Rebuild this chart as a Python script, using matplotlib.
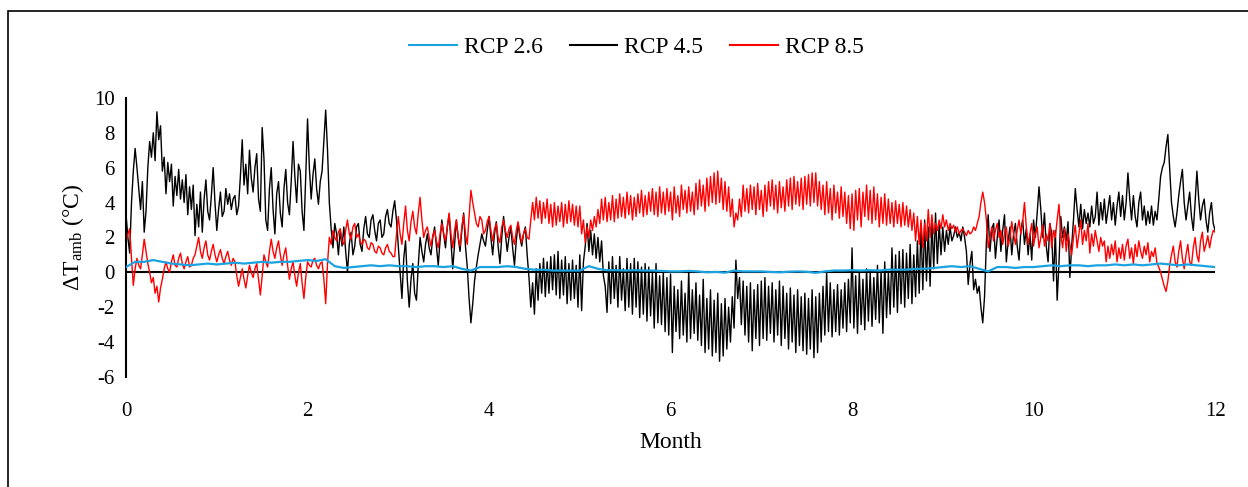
import numpy as np
import matplotlib
matplotlib.use("Agg")
import matplotlib.pyplot as plt
from matplotlib.patches import Rectangle

plt.rcParams["font.family"] = ["Liberation Serif", "DejaVu Serif"]
plt.rcParams["mathtext.fontset"] = "stix"
plt.rcParams["axes.unicode_minus"] = False

# 读图估计的数值：RCP 4.5 / 8.5 每 0.02 个月一个点（每行 10 个，每月 5 行），RCP 2.6 每 0.1 个月一个点
rcp45 = [
    # 0 月
    3.3, 2.0, 1.1, 4.0, 5.8, 7.1, 6.0, 4.8, 3.6, 5.2,
    2.3, 3.5, 6.0, 7.5, 6.6, 8.0, 6.4, 9.2, 7.6, 8.4,
    5.8, 6.6, 4.5, 6.3, 5.2, 6.2, 3.8, 5.5, 4.4, 5.9,
    4.2, 5.3, 4.0, 5.6, 3.3, 4.9, 3.6, 5.0, 2.1, 3.9,
    2.6, 4.6, 2.3, 4.2, 5.3, 3.5, 3.0, 4.4, 6.0, 4.0,
    # 1 月
    2.4, 3.6, 4.6, 3.2, 3.5, 4.8, 3.9, 4.5, 3.6, 4.2,
    4.4, 3.3, 3.8, 5.5, 7.6, 5.0, 6.2, 4.5, 7.0, 5.4,
    4.6, 6.0, 6.8, 4.2, 3.5, 8.3, 6.5, 3.0, 2.4, 4.8,
    6.0, 3.6, 2.2, 4.5, 5.2, 3.4, 2.6, 4.8, 5.9, 4.0,
    3.3, 5.2, 7.5, 5.5, 4.0, 6.2, 5.8, 3.5, 2.4, 5.5,
    # 2 月
    8.8, 6.0, 4.2, 5.6, 6.5, 4.8, 3.9, 5.2, 5.8, 7.5,
    9.3, 7.0, 4.0, 2.5, 1.4, 2.8, 2.2, 1.0, 2.4, 1.5,
    2.6, 1.2, 0.0, 1.6, 2.3, 1.0, 1.5, 2.6, 2.8, 1.6,
    1.2, 2.5, 3.2, 2.2, 2.0, 3.0, 3.3, 2.4, 1.8, 2.8,
    3.0, 2.0, 2.2, 3.2, 3.6, 2.8, 2.6, 3.5, 4.1, 3.0,
    # 3 月
    1.5, 0.0, -1.5, 0.8, 1.8, -0.5, -2.0, -0.4, 0.5, -1.2,
    -1.6, 0.4, 2.0, 1.2, 0.6, 1.6, 2.2, 1.4, 1.0, 2.0,
    2.6, 1.5, 0.4, 1.8, 3.0, 2.2, 1.4, 2.6, 3.3, 1.8,
    0.2, 1.6, 3.0, 2.0, 1.2, 2.4, 3.4, 1.5, 0.3, -1.5,
    -2.9, -1.8, -0.5, 0.3, 1.0, 1.6, 2.2, 1.8, 1.5, 2.4,
    # 4 月
    3.2, 2.0, 1.0, 2.2, 2.9, 1.5, 0.5, 2.0, 3.2, 2.2,
    1.2, 2.0, 2.6, 1.4, 0.4, 1.8, 2.8, 2.0, 1.5, 2.2,
    2.6, 1.0, -0.3, -2.0, -0.6, -2.4, 0.2, -1.6, 0.5, -1.2,
    0.8, -1.4, 0.6, -1.2, 0.9, -1.0, 1.0, -1.3, 1.2, -1.5,
    0.7, -1.3, 0.9, -1.8, 0.5, -1.6, 0.7, -1.5, 0.4, -2.0,
    # 5 月
    1.0, -2.2, 0.6, 1.5, 2.8, 1.2, 2.4, 1.0, 2.2, 0.8,
    2.0, 0.6, 1.8, -0.2, -0.8, -2.3, 0.6, -1.8, 0.9, -1.5,
    0.4, -2.0, 0.9, -1.6, 0.2, -2.2, 0.8, -2.0, 0.5, -2.4,
    0.8, -2.0, 0.6, -2.6, 0.3, -2.4, 0.5, -2.8, 0.3, -2.5,
    0.0, -3.2, 0.5, -2.9, -0.2, -3.0, 0.0, -3.4, -0.3, -3.6,
    # 6 月
    -0.1, -4.6, -0.8, -3.4, -1.0, -3.8, -0.5, -3.6, -1.2, -4.0,
    0.1, -3.8, -1.0, -3.5, -0.6, -3.9, -1.3, -4.2, -0.4, -4.6,
    -1.5, -4.4, -1.0, -4.8, -1.6, -4.6, -1.2, -5.1, -1.8, -4.8,
    -1.5, -4.4, -2.0, -4.0, -1.4, -3.2, 0.7, -1.5, -0.3, -3.0,
    -0.5, -3.6, -0.8, -4.0, -0.6, -4.5, -1.0, -3.8, -0.7, -4.2,
    # 7 月
    -0.5, -3.8, -0.3, -3.9, -0.8, -3.5, -0.6, -4.0, -1.0, -3.6,
    -0.5, -4.2, -0.8, -3.8, -1.2, -4.4, -0.9, -4.0, -1.3, -4.6,
    -1.0, -4.2, -1.4, -4.5, -1.2, -4.7, -1.5, -4.4, -1.0, -4.9,
    -1.4, -4.6, -1.2, -4.0, -0.8, -3.6, 0.0, -3.4, -0.6, -3.7,
    -1.0, -3.4, -0.7, -3.6, -1.0, -3.2, -0.6, -3.4, -0.4, -2.9,
    # 8 月
    1.4, -3.2, -0.2, -3.5, 0.0, -3.0, -0.4, -3.3, 0.2, -2.8,
    0.0, -3.1, -0.3, -2.7, 0.4, -2.9, 0.1, -3.5, 0.6, -2.6,
    0.0, -2.4, 1.4, -2.0, 1.0, -2.3, 1.2, -1.8, 1.3, -2.0,
    1.1, -1.5, 1.6, -1.8, 1.0, -1.4, 1.8, -1.2, 2.8, -1.0,
    3.0, -0.5, 2.6, -0.8, 3.0, 0.2, 3.4, 0.5, 2.8, 1.0,
    # 9 月
    2.6, 1.2, 2.4, 1.6, 2.6, 1.8, 2.1, 2.6, 2.0, 2.3,
    1.8, 2.6, 2.0, 1.2, -0.7, 0.5, 1.2, -1.0, -0.4, -1.2,
    -0.8, -2.0, -2.9, -1.4, 1.7, 3.3, 1.2, 2.5, 2.8, 0.8,
    2.0, 3.0, 1.2, 2.4, 3.3, 0.6, 1.8, 2.6, 1.0, 2.2,
    2.8, 1.5, 0.7, 2.4, 3.0, 1.6, 2.5, 1.0, 2.2, 0.7,
    # 10 月
    3.0, 2.0, 3.4, 4.9, 3.6, 2.0, 3.4, 1.5, 0.6, 2.8,
    2.2, -0.5, 2.4, -1.6, 0.5, 3.2, 2.0, 2.6, 1.8, 2.9,
    -0.3, 1.5, 3.0, 4.8, 3.6, 2.6, 3.9, 2.5, 3.6, 2.8,
    3.4, 2.6, 3.8, 2.8, 3.2, 4.6, 2.7, 4.0, 3.0, 4.2,
    2.8, 3.6, 4.4, 3.0, 4.0, 2.7, 3.8, 4.6, 3.2, 4.4,
    # 11 月
    3.0, 4.0, 5.7, 4.2, 3.0, 4.4, 3.2, 2.6, 4.0, 4.6,
    3.0, 3.8, 2.7, 3.5, 2.8, 3.8, 2.7, 3.5, 3.0, 4.2,
    5.5, 6.0, 6.3, 7.2, 7.9, 6.0, 4.0, 3.2, 2.6, 3.4,
    4.4, 5.2, 5.9, 4.0, 3.0, 3.8, 4.6, 3.2, 2.4, 4.0,
    5.8, 4.2, 3.0, 3.8, 4.2, 3.0, 2.3, 3.4, 4.0, 2.8,
    2.4,
]
rcp85 = [
    # 0 月
    1.7, 2.2, 2.5, 0.8, -0.75, 0.2, 0.8, 0.4, 0.2, 1.0,
    1.9, 1.2, 0.5, 0.0, -0.6, -0.3, -1.2, -0.8, -1.7, -0.9,
    -0.4, 0.2, 0.6, 0.2, 0.0, 0.6, 1.0, 0.4, 0.3, 0.8,
    1.1, 0.5, 0.2, 0.6, 0.9, 0.3, 0.4, 0.8, 1.0, 1.5,
    2.0, 1.2, 0.8, 1.4, 1.8, 1.0, 0.7, 1.2, 1.6, 1.0,
    # 1 月
    0.6, 1.0, 1.3, 0.8, 0.5, 0.9, 1.2, 0.7, 0.4, 0.8,
    0.6, -0.2, -0.8, -0.3, 0.2, -0.4, -0.9, -0.2, 0.4, 0.0,
    -0.3, 0.2, 0.5, -0.4, -1.3, -0.2, 1.0, 0.6, 0.3, 1.2,
    1.9, 1.2, 0.8, 1.4, 1.8, 1.0, 0.4, 1.0, 1.4, 0.4,
    -0.4, 0.2, 0.6, -0.2, -0.8, 0.0, 0.5, -0.6, -1.5, -0.3,
    # 2 月
    0.6, 0.4, 0.3, 0.7, 0.8, 0.4, 0.2, 0.5, 0.6, -0.4,
    -1.8, 0.5, 2.0, 1.6, 2.4, 2.0, 1.8, 2.3, 2.5, 1.8,
    1.6, 2.4, 3.0, 2.2, 1.9, 2.6, 2.8, 2.0, 2.2, 1.8,
    1.6, 1.9, 1.8, 1.4, 1.3, 1.7, 1.6, 1.2, 1.1, 1.5,
    1.4, 1.1, 1.0, 1.4, 1.6, 1.2, 1.1, 0.9, 0.9, 2.2,
    # 3 月
    3.2, 2.2, 1.6, 2.8, 3.8, 2.4, 1.8, 2.9, 3.5, 2.6,
    2.2, 3.4, 4.3, 3.0, 2.0, 2.4, 2.6, 2.0, 1.5, 2.1,
    2.4, 1.8, 1.4, 2.2, 2.8, 2.2, 1.8, 2.6, 3.4, 2.2,
    1.4, 2.4, 3.0, 2.0, 1.5, 2.6, 3.3, 2.2, 1.6, 3.2,
    4.7, 4.0, 3.4, 2.8, 2.6, 3.2, 3.0, 2.2, 2.4, 2.9,
    # 4 月
    3.2, 2.4, 1.8, 2.5, 2.8, 2.0, 1.7, 2.6, 3.0, 2.4,
    2.0, 2.5, 2.7, 2.0, 1.6, 2.4, 2.9, 2.2, 1.7, 2.2,
    2.5, 2.0, 1.9, 3.0, 4.0, 3.0, 4.3, 3.1, 4.1, 2.8,
    4.0, 3.1, 4.2, 2.8, 3.9, 2.6, 4.0, 2.7, 3.8, 2.9,
    4.0, 2.6, 3.9, 2.8, 4.1, 2.9, 3.9, 2.7, 3.8, 2.6,
    # 5 月
    3.8, 2.2, 3.0, 1.7, 2.6, 2.0, 3.0, 2.4, 3.2, 2.6,
    3.6, 2.8, 4.2, 3.0, 4.3, 2.9, 4.0, 3.0, 4.4, 2.9,
    4.2, 3.1, 4.5, 3.2, 4.3, 3.1, 4.6, 3.3, 4.4, 3.0,
    4.3, 3.2, 4.5, 3.4, 4.7, 3.2, 4.4, 3.3, 4.6, 3.5,
    4.8, 3.3, 4.6, 3.2, 4.9, 3.4, 4.6, 3.3, 4.8, 3.5,
    # 6 月
    4.6, 3.0, 4.9, 3.4, 4.4, 3.2, 5.0, 3.6, 4.7, 3.4,
    4.9, 3.5, 4.6, 3.3, 5.1, 3.6, 5.3, 3.8, 5.0, 3.5,
    5.4, 3.8, 5.5, 4.0, 5.7, 3.9, 5.8, 4.0, 5.4, 3.6,
    5.2, 3.5, 4.9, 3.2, 4.2, 2.6, 3.4, 3.0, 4.2, 3.2,
    5.0, 3.5, 4.8, 3.4, 5.0, 3.6, 4.9, 3.3, 5.1, 3.6,
    # 7 月
    4.7, 3.2, 5.0, 3.5, 5.2, 3.8, 5.3, 3.6, 5.0, 3.4,
    5.2, 3.7, 4.9, 3.5, 5.3, 3.8, 5.4, 3.6, 5.5, 3.9,
    5.2, 3.8, 5.4, 3.6, 5.5, 3.9, 5.6, 3.8, 5.7, 4.0,
    5.7, 3.8, 5.2, 3.6, 5.0, 3.3, 5.2, 3.4, 4.8, 3.0,
    5.0, 3.4, 4.6, 3.1, 4.9, 3.2, 4.6, 2.8, 4.4, 2.5,
    # 8 月
    4.5, 2.4, 4.7, 3.0, 4.8, 2.6, 4.6, 3.2, 5.0, 3.0,
    4.7, 2.8, 4.9, 3.0, 4.5, 2.6, 4.3, 2.8, 4.5, 2.7,
    4.2, 2.8, 4.0, 2.6, 4.1, 2.8, 3.9, 2.6, 4.0, 2.7,
    3.8, 2.6, 3.6, 2.4, 3.4, 1.8, 3.2, 1.6, 3.0, 1.4,
    2.8, 1.8, 3.6, 2.0, 3.3, 2.2, 2.8, 2.4, 3.0, 2.5,
    # 9 月
    3.3, 2.6, 3.0, 2.4, 2.8, 2.5, 2.7, 2.3, 2.6, 2.2,
    2.4, 2.5, 2.3, 2.1, 2.4, 2.2, 2.3, 2.6, 2.4, 2.8,
    3.2, 4.0, 4.6, 4.0, 3.0, 1.4, 2.0, 2.6, 1.8, 2.4,
    2.8, 2.0, 2.4, 1.6, 2.2, 2.6, 1.5, 2.0, 2.9, 2.2,
    1.6, 2.4, 3.0, 2.2, 2.9, 4.0, 2.6, 1.6, 2.2, 2.8,
    # 10 月
    1.5, 2.2, 2.6, 1.4, 2.0, 2.7, 1.5, 2.2, 1.8, 2.8,
    1.4, 2.4, 2.0, 3.0, 3.9, 2.2, 1.4, 2.5, 1.2, 2.2,
    1.6, 1.0, 2.0, 2.7, 1.4, 2.2, 3.0, 1.6, 2.4, 1.8,
    2.8, 1.1, 2.2, 1.5, 2.4, 1.8, 1.2, 2.0, 1.5, 1.8,
    0.6, 1.5, 0.8, 1.6, 1.0, 1.8, 0.6, 1.4, 0.8, 1.6,
    # 11 月
    0.7, 1.5, 1.9, 0.8, 1.4, 0.5, 1.6, 0.9, 1.8, 1.2,
    0.8, 1.5, 1.0, 1.7, 0.6, 1.2, 0.9, 1.4, 0.5, 0.3,
    0.0, -0.4, -0.8, -1.1, -0.5, 0.4, 1.0, 1.5, 0.6, 0.3,
    1.2, 1.8, 0.8, 0.2, 1.0, 1.6, 0.6, 0.4, 1.4, 2.0,
    1.0, 0.6, 1.8, 2.3, 1.2, 1.6, 2.1, 1.4, 2.0, 2.4,
    2.3,
]
rcp26 = [
    0.3, 0.6, 0.6, 0.7, 0.6, 0.5, 0.45, 0.4, 0.45, 0.5,
    0.45, 0.5, 0.55, 0.5, 0.55, 0.6, 0.55, 0.6, 0.6, 0.65,
    0.7, 0.65, 0.75, 0.35, 0.25, 0.3, 0.35, 0.4, 0.35, 0.4,
    0.35, 0.35, 0.3, 0.35, 0.35, 0.3, 0.35, 0.2, 0.1, 0.3,
    0.3, 0.3, 0.35, 0.3, 0.2, 0.15, 0.15, 0.1, 0.1, 0.1,
    0.1, 0.35, 0.2, 0.12, 0.12, 0.1, 0.12, 0.1, 0.1, 0.08,
    0.05, 0.05, 0.08, 0.05, 0.0, 0.02, -0.02, 0.1, 0.05, 0.05,
    0.05, 0.02, 0.0, 0.03, 0.05, 0.03, -0.03, 0.05, 0.1, 0.1,
    0.12, 0.1, 0.12, 0.1, 0.15, 0.15, 0.15, 0.2, 0.2, 0.25,
    0.3, 0.35, 0.3, 0.35, 0.2, 0.05, 0.3, 0.3, 0.25, 0.3,
    0.3, 0.35, 0.4, 0.35, 0.4, 0.4, 0.35, 0.4, 0.4, 0.45,
    0.4, 0.45, 0.4, 0.45, 0.5, 0.45, 0.4, 0.45, 0.4, 0.35,
    0.3,
]
month_fine = np.linspace(0, 12, len(rcp45))
month_red = np.linspace(0, 12, len(rcp85))
month_coarse = np.linspace(0, 12, len(rcp26))

x_ticks = [0, 2, 4, 6, 8, 10, 12]
y_ticks = [-6, -4, -2, 0, 2, 4, 6, 8, 10]

fig = plt.figure(figsize=(12.48, 4.87), dpi=100)
ax = fig.add_axes([0.101, 0.226, 0.8726, 0.573])

ax.plot(month_coarse, rcp26, color="#1aa3e0", lw=1.6, label="RCP 2.6", zorder=3)
ax.plot(month_fine, rcp45, color="black", lw=1.0, label="RCP 4.5", zorder=2)
ax.plot(month_red, rcp85, color="#ff0000", lw=1.0, label="RCP 8.5", zorder=2)
ax.axhline(0, color="black", lw=1.5, zorder=1)

ax.set_xlim(0, 12)
ax.set_ylim(-6, 10)
ax.set_xticks(x_ticks)
ax.set_yticks(y_ticks)
for s in ["top", "right", "bottom"]:
    ax.spines[s].set_visible(False)
ax.spines["left"].set_linewidth(1.5)
ax.tick_params(axis="both", length=0, labelsize=15)
ax.tick_params(axis="x", pad=18)
ax.tick_params(axis="y", pad=8)

ax.set_xlabel("Month", fontsize=17, labelpad=8)
ax.set_ylabel(r"ΔT$_\mathregular{amb}$ (°C)", fontsize=17, labelpad=6)

leg = fig.legend(loc="center", bbox_to_anchor=(0.51, 0.903), ncol=3, frameon=False,
                 fontsize=17, handlelength=2.0, columnspacing=1.15, handletextpad=0.3)
for line in leg.get_lines():
    line.set_linewidth(1.5)

# 外框（只露出上边和左边）
fig.patches.append(Rectangle((8 / 1248, -0.1), 1.2, 1.1 - 11 / 487, transform=fig.transFigure,
                             fill=False, edgecolor="black", lw=1.2))

fig.savefig("out.png", dpi=100)
